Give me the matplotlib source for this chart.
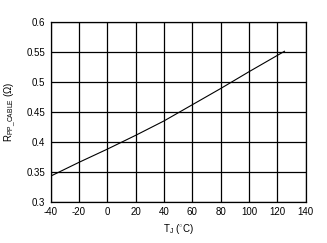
import matplotlib
matplotlib.use('Agg')
import matplotlib.pyplot as plt

# temperature (C) vs cable resistance (ohm)
temp_c = [-40, -20, 0, 20, 40, 60, 80, 100, 125]
r_cable = [0.343, 0.366, 0.388, 0.411, 0.435, 0.462, 0.489, 0.517, 0.551]

x_ticks = list(range(-40, 141, 20))
y_ticks = [0.3, 0.35, 0.4, 0.45, 0.5, 0.55, 0.6]
y_tick_labels = ['0.3', '0.35', '0.4', '0.45', '0.5', '0.55', '0.6']

plt.rcParams['font.family'] = ['Liberation Sans', 'DejaVu Sans']
plt.rcParams['mathtext.fontset'] = 'custom'
plt.rcParams['mathtext.rm'] = 'Liberation Sans'
plt.rcParams['mathtext.it'] = 'Liberation Sans'
plt.rcParams['axes.unicode_minus'] = False

fig = plt.figure(figsize=(3.27, 2.43), dpi=100)
ax = fig.add_axes([0.155, 0.169, 0.78, 0.741])

ax.plot(temp_c, r_cable, color='black', linewidth=0.8)

ax.set_xlim(-40, 140)
ax.set_ylim(0.3, 0.6)
ax.set_xticks(x_ticks)
ax.set_yticks(y_ticks)
ax.set_yticklabels(y_tick_labels)
ax.tick_params(length=0, labelsize=7, pad=4)
ax.grid(True, color='black', linewidth=0.9)
for s in ax.spines.values():
    s.set_linewidth(0.9)

ax.set_xlabel(r'T$_{\mathrm{J}}$ ($^{\circ}$C)', fontsize=7, labelpad=3)
ax.set_ylabel(r'R$_{\mathrm{PP\_CABLE}}$ ($\Omega$)', fontsize=7, labelpad=6)

fig.savefig('out.png', dpi=100)
